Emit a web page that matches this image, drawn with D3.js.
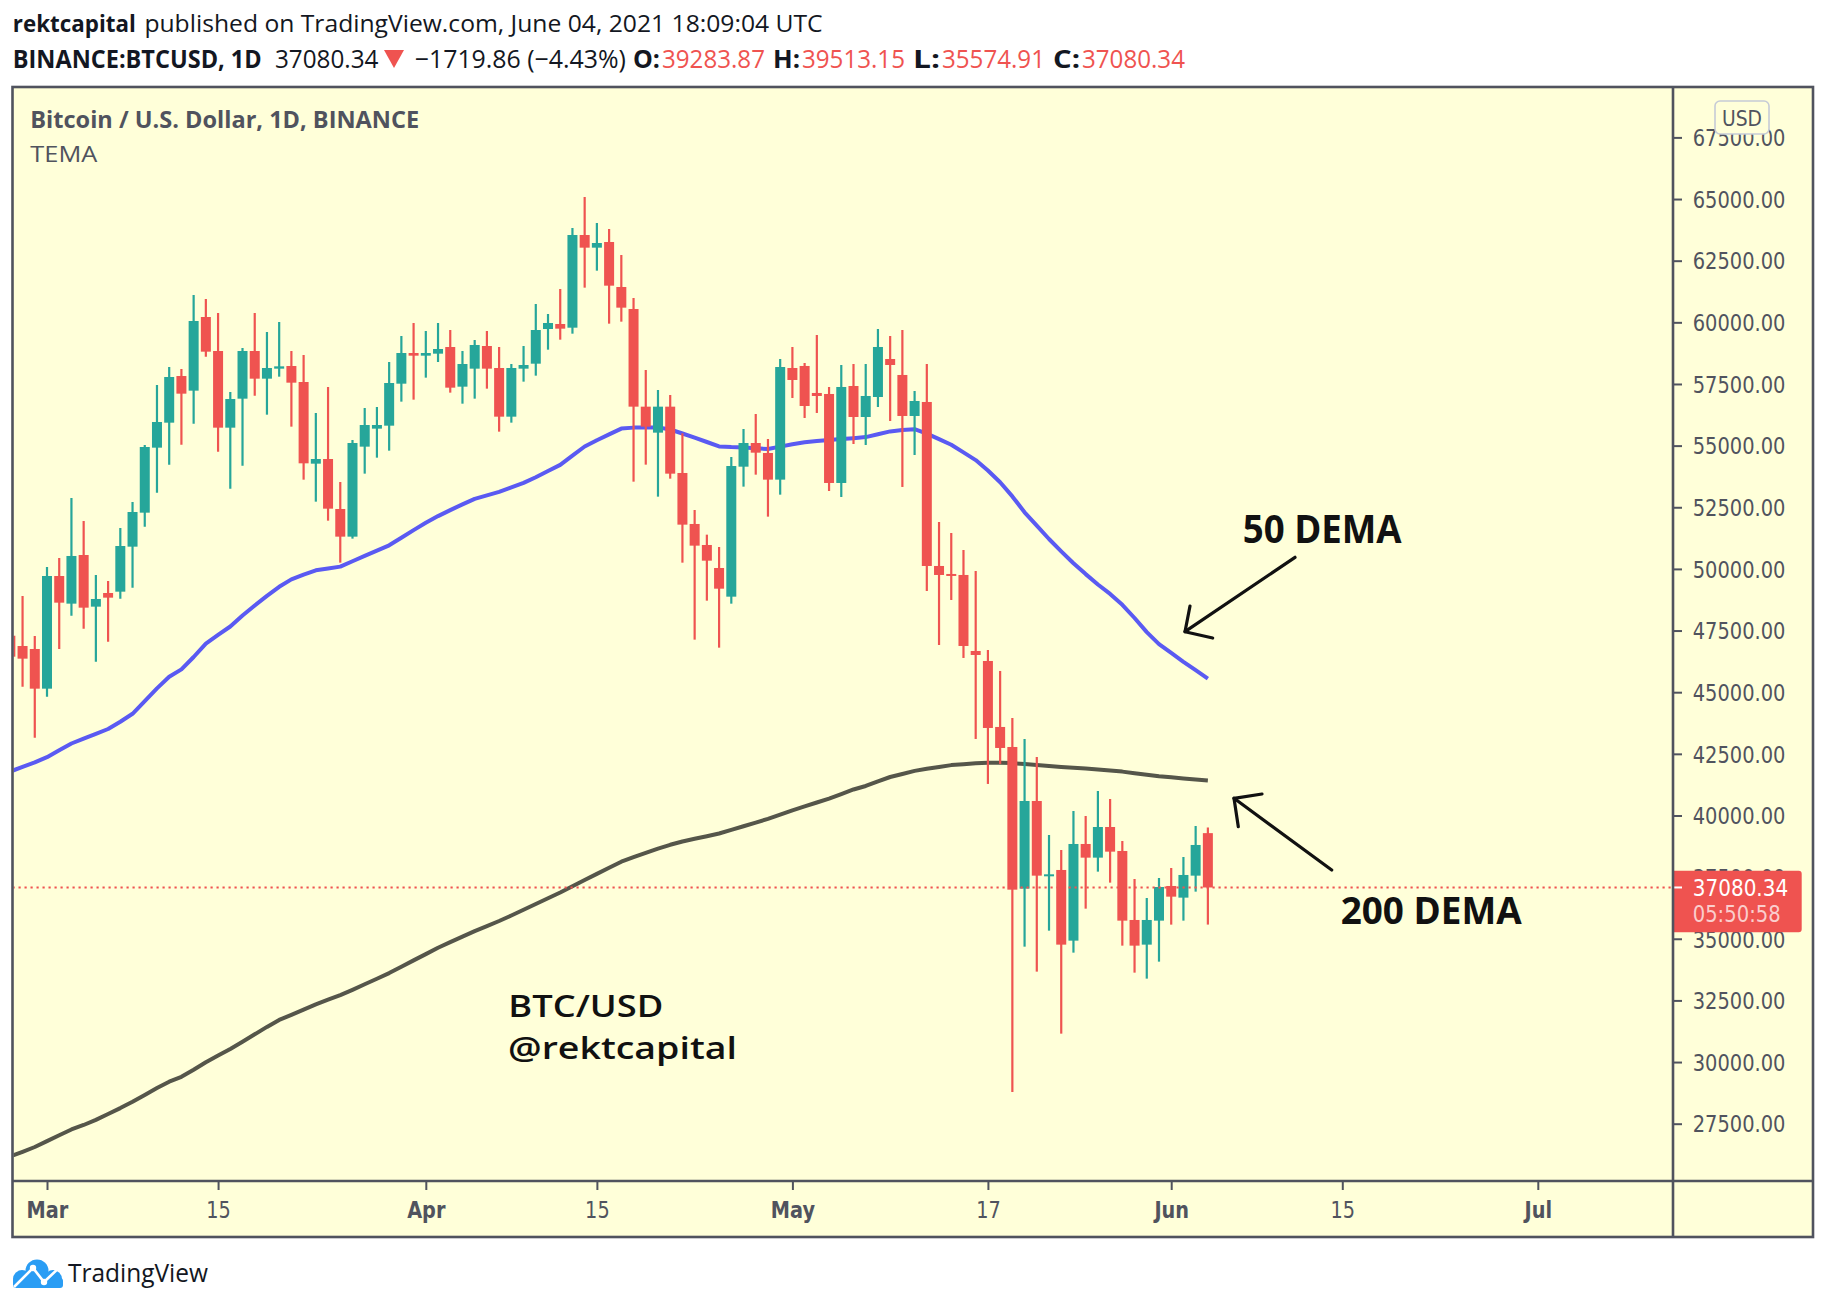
<!DOCTYPE html>
<html><head><meta charset="utf-8">
<script src="https://cdn.jsdelivr.net/npm/d3@7"></script>
<style>body{margin:0;background:#fff;}svg{display:block}</style>
</head><body>
<svg id="c" width="1826" height="1310"></svg>
<script>
// ---------------- DATA (daily candles, 2021-02-26 .. 2021-06-04) ----------------
const firstDay = "2021-02-26";
const lastDay = "2021-06-04";
const opens = [47290,46873,46752,45143,49712,48591,50564,48469,49023,49077,50902,52281,54917,55931,57823,57229,60216,58837,55728,56904,58837,57715,58121,58229,57580,54268,54457,52430,51308,54958,55688,55809,57512,58756,
58648,58729,58999,57391,58121,59040,58148,56174,58121,58323,59729,59932,59783,63542,63028,63258,61433,60541,56580,55526,56580,53890,51822,50970,50037,48874,54146,55106,54701,53620,
58148,58230,57135,57094,53485,57418,56161,56972,58513,57865,56202,56770,50119,49795,49754,46671,46266,43590,42778,37033,40588,37560,37790,34924,38844,38290,39533,38560,35762,34762,35735,
37141,36668,37560,39284];
const highs = [48400,48901,47279,50078,50442,52876,51943,49753,49510,51659,52713,55025,57458,58188,58107,61108,60946,60378,57174,58959,60378,59608,60013,58837,58675,56323,57377,53524,55228,56525,56566,58391,59445,59972,
59648,59973,59689,58837,59283,59648,59000,58310,59040,60743,60338,61352,63825,65083,64028,63785,62731,60987,58067,57256,57053,55498,52389,51389,50888,54539,55674,56282,55269,58513,
59000,58351,59487,57378,58270,58311,58311,59730,59446,59689,57216,58311,51903,51457,50768,49916,46712,45861,43954,43102,42372,39209,38601,40182,39980,40993,40669,38966,37424,36654,37465,
37871,38317,39574,39513];
const lows = [44100,45224,43156,44819,46752,48104,47577,46238,47049,48793,49239,51713,53092,54228,55039,55890,58607,54755,53254,54187,57026,56255,57796,55769,53619,52727,51956,50253,51227,53863,54511,54795,56783,56864,
57756,58391,57148,56701,56904,57310,55566,55931,57594,57837,58891,59297,59540,61406,62095,59946,60027,53538,54228,52930,53660,50253,47131,48712,46806,48590,53336,53822,52119,53011,
56932,56121,56324,53160,52917,55066,55026,56567,55999,53323,54620,49105,46915,48740,46388,43103,41279,42089,28786,34680,33667,35329,31152,34437,36221,37722,37276,34721,33626,33383,34072,
35573,35735,36911,35575];
const closes = [46440,46360,45143,49712,48631,50524,48428,48780,48834,50929,52308,54944,55958,57783,57107,60054,58810,55728,56890,58837,57715,58148,58215,57553,54282,54457,52443,51308,55106,55836,55836,57539,58756,58648,
58756,58918,57350,58310,59081,58121,56174,58148,58269,59689,59973,59743,63542,63028,63217,61487,60595,56580,55769,56580,53863,51795,50943,50334,49198,54173,55106,54714,53620,58188,
57662,56607,57013,53485,57378,56161,57013,59000,58270,56202,56810,50119,49754,49714,46874,46509,43549,42738,36992,40588,37560,37614,34762,38844,38290,39533,38533,35735,34721,35762,37100,
36708,37587,38804,37080];
const dema50 = [41784,41970,42153,42364,42644,42919,43118,43313,43507,43803,44124,44635,45154,45624,45924,46427,46971,47324,47664,48110,48516,48905,49274,49574,49769,49943,50020,50093,50312,50527,50742,50957,51262,51574,
51870,52141,52385,52616,52839,52981,53123,53305,53488,53719,53971,54218,54595,54964,55220,55455,55690,55730,55735,55739,55654,55491,55321,55147,54968,54940,54924,54891,54863,54960,
55057,55139,55191,55232,55268,55301,55345,55463,55577,55629,55666,55487,55261,55033,54725,54413,53991,53516,52940,52296,51752,51213,50714,50231,49789,49368,48986,48544,48009,47437,46950,
46594,46233,45892,45551];
const dema200 = [26170,26360,26555,26794,27034,27265,27448,27654,27894,28133,28388,28668,28944,29203,29402,29690,29994,30266,30533,30825,31125,31426,31710,31917,32127,32338,32529,32716,32930,33157,33380,33608,33863,34123,
34378,34638,34865,35088,35311,35514,35721,35944,36179,36410,36645,36876,37128,37384,37631,37878,38126,38312,38487,38657,38811,38945,39054,39160,39269,39415,39562,39711,39865,40036,
40210,40368,40527,40685,40871,41054,41196,41386,41561,41682,41808,41897,41970,42043,42080,42116,42141,42141,42124,42084,42043,42003,41966,41938,41909,41869,41824,41779,41715,41654,41593,
41548,41504,41459,41419];
const priceTicks = [27500,30000,32500,35000,37500,40000,42500,45000,47500,50000,52500,55000,57500,60000,62500,65000,67500];
const timeTickDates = ["2021-03-01","2021-03-15","2021-04-01","2021-04-15","2021-05-01","2021-05-17","2021-06-01","2021-06-15","2021-07-01"];
const timeTickLabels = ["Mar","15","Apr","15","May","17","Jun","15","Jul"];
const lastPrice = 37080.34;

// ---------------- SETUP ----------------
const svg = d3.select("#c");
const BG = "#ffffd9", FRAME = "#50535e", UP = "#26a69a", DOWN = "#ef5350";
const parse = d3.utcParse("%Y-%m-%d");
const dates = d3.utcDays(parse(firstDay), d3.utcDay.offset(parse(lastDay), 1));

const PL = 12.5, PT = 87, PR = 1673, PB = 1181, OR = 1813, OB = 1237;
const x = d3.scaleUtc().domain([parse("2021-02-26"), parse("2021-07-01")]).range([10.34, 1537.8]);
const y = d3.scaleLinear().domain([27500, 67500]).range([1123.7, 137.4]);

function fitText(parent, str, xx, yb, o, targetW) {
  const t = parent.append("text").text(str)
    .attr("font-family", o.family).attr("font-size", o.size)
    .attr("font-weight", o.weight || 400).attr("fill", o.fill || "#131722");
  const w = t.node().getComputedTextLength();
  const s = targetW ? targetW / w : (o.sx || 1);
  let tx = xx;
  if (o.anchor === "middle") tx = xx - w * s / 2;
  else if (o.anchor === "end") tx = xx - w * s;
  t.attr("transform", `translate(${tx},${yb}) scale(${s},1)`);
  return t;
}

// background
svg.append("rect").attr("width", 1826).attr("height", 1310).attr("fill", "#fff");
svg.append("rect").attr("x", PL).attr("y", PT).attr("width", OR - PL).attr("height", OB - PT).attr("fill", BG);

// ---------------- HEADER ----------------
const H = svg.append("g");
const hf = "'Open Sans', 'Noto Sans', sans-serif";
fitText(H, "rektcapital", 12.8, 32, {family: hf, size: 24, weight: 700}, 123);
fitText(H, "published on TradingView.com, June 04, 2021 18:09:04 UTC", 144.4, 32, {family: hf, size: 24}, 678.6);
fitText(H, "BINANCE:BTCUSD, 1D", 12.8, 68, {family: hf, size: 25, weight: 700}, 249);
fitText(H, "37080.34", 275, 68, {family: hf, size: 25}, 103.6);
H.append("path").attr("d", "M384,50 L404,50 L394,68 Z").attr("fill", DOWN);
fitText(H, "\u22121719.86 (\u22124.43%)", 414.7, 68, {family: hf, size: 25}, 211.3);
const ohlcLabels = ["O:", "H:", "L:", "C:"];
const ohlcVals = ["39283.87", "39513.15", "35574.91", "37080.34"];
ohlcLabels.forEach((lab, i) => {
  const x0 = 633 + i * 140;
  fitText(H, lab, x0, 68, {family: hf, size: 25, weight: 700}, 27);
  fitText(H, ohlcVals[i], x0 + 29, 68, {family: hf, size: 25, fill: DOWN}, 103);
});

// chart legend
fitText(svg, "Bitcoin / U.S. Dollar, 1D, BINANCE", 30.3, 128.3, {family: hf, size: 23, weight: 700, fill: "#50535e"}, 389);
fitText(svg, "TEMA", 30.3, 162.3, {family: hf, size: 22, fill: "#50535e"}, 67);

// ---------------- PLOT ----------------
svg.append("defs").append("clipPath").attr("id", "plotclip")
  .append("rect").attr("x", PL + 1).attr("y", PT + 1).attr("width", PR - PL - 2).attr("height", PB - PT - 2);
const plot = svg.append("g").attr("clip-path", "url(#plotclip)");

const candles = dates.map((d, i) => ({d, o: opens[i], h: highs[i], l: lows[i], c: closes[i]}));

// moving averages
const line = d3.line().x((v, i) => x(dates[i])).y(v => y(v));
plot.append("path").attr("d", line(dema200)).attr("fill", "none")
  .attr("stroke", "#55564a").attr("stroke-width", 4).attr("stroke-linejoin", "round");
plot.append("path").attr("d", line(dema50)).attr("fill", "none")
  .attr("stroke", "#5a5af2").attr("stroke-width", 4).attr("stroke-linejoin", "round");

// candles
const cg = plot.append("g").selectAll("g").data(candles).join("g");
cg.append("line")
  .attr("x1", c => x(c.d)).attr("x2", c => x(c.d))
  .attr("y1", c => y(c.h)).attr("y2", c => y(c.l))
  .attr("stroke", c => c.c >= c.o ? UP : DOWN).attr("stroke-width", 2.2);
cg.append("rect")
  .attr("x", c => x(c.d) - 5).attr("width", 10)
  .attr("y", c => y(Math.max(c.o, c.c)))
  .attr("height", c => Math.max(2, Math.abs(y(c.o) - y(c.c))))
  .attr("fill", c => c.c >= c.o ? UP : DOWN);

// last price dotted line
plot.append("line").attr("x1", PL).attr("x2", PR).attr("y1", y(lastPrice)).attr("y2", y(lastPrice))
  .attr("stroke", DOWN).attr("stroke-width", 2).attr("stroke-dasharray", "2.2,3.8");

// annotations
const af = "'Open Sans', 'Noto Sans', sans-serif";
fitText(svg, "50 DEMA", 1242.7, 543.3, {family: af, size: 39, weight: 700, fill: "#111"}, 159);
fitText(svg, "200 DEMA", 1340.7, 924, {family: af, size: 38, weight: 700, fill: "#111"}, 181);
fitText(svg, "BTC/USD", 508.3, 1016.7, {family: af, size: 30, weight: 600, fill: "#111"}, 155);
fitText(svg, "@rektcapital", 508, 1059.3, {family: af, size: 30, weight: 600, fill: "#111"}, 229);
const arr = svg.append("g").attr("fill", "none").attr("stroke", "#111").attr("stroke-width", 3.2)
  .attr("stroke-linecap", "round").attr("stroke-linejoin", "round");
arr.append("path").attr("d", "M1295,557.3 L1185,631.7");
arr.append("path").attr("d", "M1190,606 L1185,631.7 L1212.7,638");
arr.append("path").attr("d", "M1331.7,870 L1234,798.3");
arr.append("path").attr("d", "M1262,794 L1234,798.3 L1238.3,826.7");

// ---------------- PRICE AXIS ----------------
const AX = "'DejaVu Sans', sans-serif";
const SX = 0.845;
const ya = svg.append("g").attr("transform", `translate(${PR},0)`)
  .call(d3.axisRight(y).tickValues(priceTicks).tickSize(9).tickFormat(d => d.toFixed(2)));
ya.select(".domain").remove();
ya.selectAll(".tick line").attr("stroke", FRAME).attr("stroke-width", 2);
ya.selectAll(".tick text").attr("x", 19.7 / SX).attr("dy", "0.36em").attr("fill", FRAME)
  .attr("font-family", AX).attr("font-size", 23).attr("transform", `scale(${SX},1)`);

// USD box
svg.append("rect").attr("x", 1715).attr("y", 101).attr("width", 54).attr("height", 33).attr("rx", 5)
  .attr("fill", BG).attr("stroke", "#c6cbd6").attr("stroke-width", 1.6);
fitText(svg, "USD", 1742, 125.5, {family: AX, size: 21, fill: FRAME, anchor: "middle"}, 40);

// last price label
const lpY = y(lastPrice);
svg.append("path").attr("d", `M${PR},${lpY - 16.7} H1798.7 a3,3 0 0 1 3,3 V${lpY + 41.7} a3,3 0 0 1 -3,3 H${PR} Z`)
  .attr("fill", DOWN);
svg.append("line").attr("x1", PR).attr("x2", PR + 9).attr("y1", lpY).attr("y2", lpY)
  .attr("stroke", "#fff").attr("stroke-width", 2);
fitText(svg, "37080.34", 1692.7, lpY + 8.3, {family: AX, size: 23, fill: "#fff"}, 95.6);
fitText(svg, "05:50:58", 1692.7, lpY + 34.5, {family: AX, size: 23, fill: "rgba(255,255,255,0.72)"}, 88);

// ---------------- TIME AXIS ----------------
const tDates = timeTickDates.map(parse);
const xa = svg.append("g").attr("transform", `translate(0,${PB})`)
  .call(d3.axisBottom(x).tickValues(tDates).tickSize(9).tickFormat((d, i) => timeTickLabels[i]));
xa.select(".domain").remove();
xa.selectAll(".tick line").attr("stroke", FRAME).attr("stroke-width", 2);
xa.selectAll(".tick text").attr("y", 37).attr("dy", 0).attr("fill", FRAME)
  .attr("font-family", AX).attr("font-size", 23)
  .attr("font-weight", (d, i) => isNaN(+timeTickLabels[i]) ? 700 : 400)
  .attr("transform", `scale(0.84,1)`);

// ---------------- FRAME ----------------
const fr = svg.append("g").attr("stroke", FRAME).attr("stroke-width", 2.6).attr("fill", "none");
fr.append("rect").attr("x", PL).attr("y", PT).attr("width", OR - PL).attr("height", OB - PT);
fr.append("line").attr("x1", PR).attr("x2", PR).attr("y1", PT).attr("y2", OB);
fr.append("line").attr("x1", PL).attr("x2", OR).attr("y1", PB).attr("y2", PB);

// ---------------- FOOTER LOGO ----------------
const lg = svg.append("g");
const LB = "#2a9df4";
lg.append("circle").attr("cx", 37).attr("cy", 1271).attr("r", 11.5).attr("fill", LB);
lg.append("circle").attr("cx", 22).attr("cy", 1279).attr("r", 9).attr("fill", LB);
lg.append("circle").attr("cx", 53).attr("cy", 1279).attr("r", 9).attr("fill", LB);
lg.append("rect").attr("x", 13).attr("y", 1278).attr("width", 50).attr("height", 10).attr("rx", 3).attr("fill", LB);
lg.append("path").attr("d", "M14,1287 L33,1268 L44,1282 L62,1265").attr("fill", "none")
  .attr("stroke", "#fff").attr("stroke-width", 2.6);
lg.append("circle").attr("cx", 33).attr("cy", 1268).attr("r", 3.2).attr("fill", "#fff");
lg.append("circle").attr("cx", 44).attr("cy", 1282).attr("r", 3.2).attr("fill", "#fff");
fitText(svg, "TradingView", 68, 1282, {family: hf, size: 26, fill: "#131722"}, 140);
</script>
</body></html>
